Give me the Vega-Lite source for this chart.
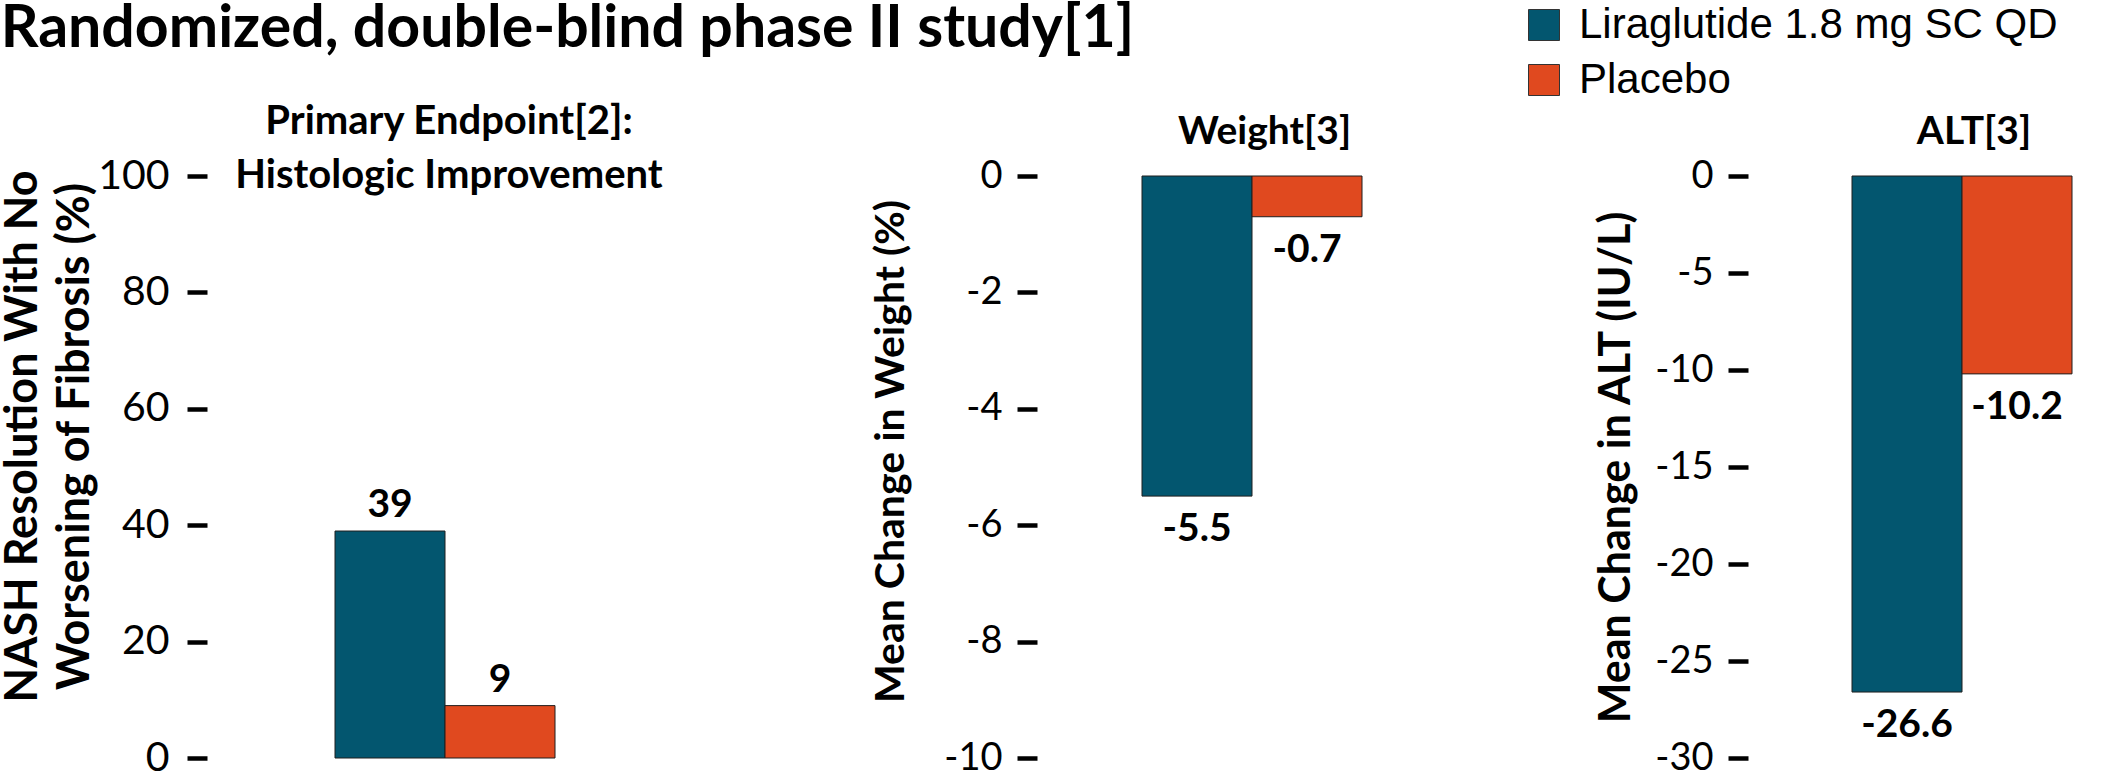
{
  "$schema": "https://vega.github.io/schema/vega-lite/v6.json",
  "background": "white",
  "padding": 0,
  "title": {
    "text": "Randomized, double-blind phase II study[1]",
    "font": "Lato",
    "fontWeight": "bold",
    "fontSize": 59,
    "color": "black",
    "anchor": "start",
    "frame": "bounds",
    "offset": -55
  },
  "datasets": {
    "nash": [
      {"arm": "Liraglutide 1.8 mg SC QD", "value": 39},
      {"arm": "Placebo", "value": 9}
    ],
    "weight": [
      {"arm": "Liraglutide 1.8 mg SC QD", "value": -5.5},
      {"arm": "Placebo", "value": -0.7}
    ],
    "alt": [
      {"arm": "Liraglutide 1.8 mg SC QD", "value": -26.6},
      {"arm": "Placebo", "value": -10.2}
    ]
  },
  "spacing": 300,
  "bounds": "flush",
  "resolve": {
    "scale": {"x": "independent", "y": "independent", "color": "shared"},
    "axis": {"y": "independent"},
    "legend": {"color": "shared"}
  },
  "hconcat": [
    {
      "width": 530,
      "height": 582,
      "data": {"name": "nash"},
      "title": {
        "text": ["Primary Endpoint[2]:", "Histologic Improvement"],
        "font": "Lato",
        "fontWeight": "bold",
        "fontSize": 40,
        "lineHeight": 54,
        "color": "black",
        "anchor": "middle",
        "frame": "group",
        "offset": -41,
        "dx": -23
      },
      "encoding": {
        "x": {
          "field": "arm",
          "type": "nominal",
          "sort": null,
          "scale": {"paddingInner": 0, "paddingOuter": 0, "range": [128, 348]},
          "axis": null
        },
        "y": {
          "field": "value",
          "type": "quantitative",
          "scale": {"domain": [0, 100], "nice": false},
          "axis": {
            "values": [0, 20, 40, 60, 80, 100],
            "domain": false,
            "grid": false,
            "tickSize": 20,
            "tickWidth": 4.5,
            "tickColor": "black",
            "labelFont": "Lato",
            "labelFontSize": 41,
            "labelColor": "black",
            "labelPadding": 18,
            "labelOverlap": false,
            "labelBound": false,
            "title": ["NASH Resolution With No", "Worsening of Fibrosis (%)"],
            "titleFont": "Lato",
            "titleFontSize": 45,
            "titleFontWeight": "bold",
            "titleColor": "black",
            "titleLineHeight": 52,
            "titlePadding": 0,
            "titleY": 260
          }
        }
      },
      "layer": [
        {
          "mark": {"type": "bar", "stroke": "#1f1f1f", "strokeWidth": 1},
          "encoding": {
            "color": {
              "field": "arm",
              "type": "nominal",
              "scale": {"domain": ["Liraglutide 1.8 mg SC QD", "Placebo"], "range": ["#03566F", "#E0491F"]},
              "legend": {
                "orient": "none",
                "legendX": 1316,
                "legendY": -172,
                "title": null,
                "padding": 0,
                "symbolType": "square",
                "symbolSize": 961,
                "symbolStrokeColor": "#333333",
                "symbolStrokeWidth": 1,
                "symbolOpacity": 1,
                "labelFont": "Liberation Sans",
                "labelFontSize": 42,
                "labelColor": "black",
                "labelOffset": 14,
                "labelLimit": 0,
                "rowPadding": 13
              }
            }
          }
        },
        {
          "mark": {"type": "text", "font": "Lato", "fontWeight": "bold", "fontSize": 39, "color": "black", "baseline": "alphabetic", "dy": -14},
          "encoding": {"text": {"field": "value", "type": "quantitative", "format": "d"}}
        }
      ]
    },
    {
      "width": 411,
      "height": 582,
      "data": {"name": "weight"},
      "title": {
        "text": "Weight[3]",
        "font": "Lato",
        "fontWeight": "bold",
        "fontSize": 39,
        "color": "black",
        "anchor": "middle",
        "frame": "group",
        "offset": 5,
        "dx": 22
      },
      "encoding": {
        "x": {
          "field": "arm",
          "type": "nominal",
          "sort": null,
          "scale": {"paddingInner": 0, "paddingOuter": 0, "range": [105, 325]},
          "axis": null
        },
        "y": {
          "field": "value",
          "type": "quantitative",
          "scale": {"domain": [-10, 0], "nice": false},
          "axis": {
            "values": [-10, -8, -6, -4, -2, 0],
            "domain": false,
            "grid": false,
            "tickSize": 20,
            "tickWidth": 4.5,
            "tickColor": "black",
            "labelFont": "Lato",
            "labelFontSize": 38,
            "labelColor": "black",
            "labelPadding": 15,
            "labelOverlap": false,
            "labelBound": false,
            "title": "Mean Change in Weight (%)",
            "titleFont": "Lato",
            "titleFontSize": 41,
            "titleFontWeight": "bold",
            "titleColor": "black",
            "titlePadding": 31,
            "titleY": 275
          }
        }
      },
      "layer": [
        {
          "mark": {"type": "bar", "stroke": "#1f1f1f", "strokeWidth": 1},
          "encoding": {
            "color": {
              "field": "arm",
              "type": "nominal",
              "scale": {"domain": ["Liraglutide 1.8 mg SC QD", "Placebo"], "range": ["#03566F", "#E0491F"]},
              "legend": {
                "orient": "none",
                "legendX": 1316,
                "legendY": -172,
                "title": null,
                "padding": 0,
                "symbolType": "square",
                "symbolSize": 961,
                "symbolStrokeColor": "#333333",
                "symbolStrokeWidth": 1,
                "symbolOpacity": 1,
                "labelFont": "Liberation Sans",
                "labelFontSize": 42,
                "labelColor": "black",
                "labelOffset": 14,
                "labelLimit": 0,
                "rowPadding": 13
              }
            }
          }
        },
        {
          "mark": {"type": "text", "font": "Lato", "fontWeight": "bold", "fontSize": 39, "color": "black", "baseline": "top", "dy": 14},
          "encoding": {"text": {"field": "value", "type": "quantitative", "format": ".1f"}}
        }
      ]
    },
    {
      "width": 352,
      "height": 582,
      "data": {"name": "alt"},
      "title": {
        "text": "ALT[3]",
        "font": "Lato",
        "fontWeight": "bold",
        "fontSize": 39,
        "color": "black",
        "anchor": "middle",
        "frame": "group",
        "offset": 5,
        "dx": 50
      },
      "encoding": {
        "x": {
          "field": "arm",
          "type": "nominal",
          "sort": null,
          "scale": {"paddingInner": 0, "paddingOuter": 0, "range": [104, 324]},
          "axis": null
        },
        "y": {
          "field": "value",
          "type": "quantitative",
          "scale": {"domain": [-30, 0], "nice": false},
          "axis": {
            "values": [-30, -25, -20, -15, -10, -5, 0],
            "domain": false,
            "grid": false,
            "tickSize": 20,
            "tickWidth": 4.5,
            "tickColor": "black",
            "labelFont": "Lato",
            "labelFontSize": 38,
            "labelColor": "black",
            "labelPadding": 15,
            "labelOverlap": false,
            "labelBound": false,
            "title": "Mean Change in ALT (IU/L)",
            "titleFont": "Lato",
            "titleFontSize": 43,
            "titleFontWeight": "bold",
            "titleColor": "black",
            "titlePadding": 16
          }
        }
      },
      "layer": [
        {
          "mark": {"type": "bar", "stroke": "#1f1f1f", "strokeWidth": 1},
          "encoding": {
            "color": {
              "field": "arm",
              "type": "nominal",
              "scale": {"domain": ["Liraglutide 1.8 mg SC QD", "Placebo"], "range": ["#03566F", "#E0491F"]},
              "legend": {
                "orient": "none",
                "legendX": 1316,
                "legendY": -172,
                "title": null,
                "padding": 0,
                "symbolType": "square",
                "symbolSize": 961,
                "symbolStrokeColor": "#333333",
                "symbolStrokeWidth": 1,
                "symbolOpacity": 1,
                "labelFont": "Liberation Sans",
                "labelFontSize": 42,
                "labelColor": "black",
                "labelOffset": 14,
                "labelLimit": 0,
                "rowPadding": 13
              }
            }
          }
        },
        {
          "mark": {"type": "text", "font": "Lato", "fontWeight": "bold", "fontSize": 39, "color": "black", "baseline": "top", "dy": 14},
          "encoding": {"text": {"field": "value", "type": "quantitative", "format": ".1f"}}
        }
      ]
    }
  ],
  "config": {
    "view": {"stroke": null},
    "font": "Lato",
    "locale": {
      "number": {"decimal": ".", "thousands": ",", "grouping": [3], "currency": ["$", ""], "minus": "-"}
    }
  }
}
